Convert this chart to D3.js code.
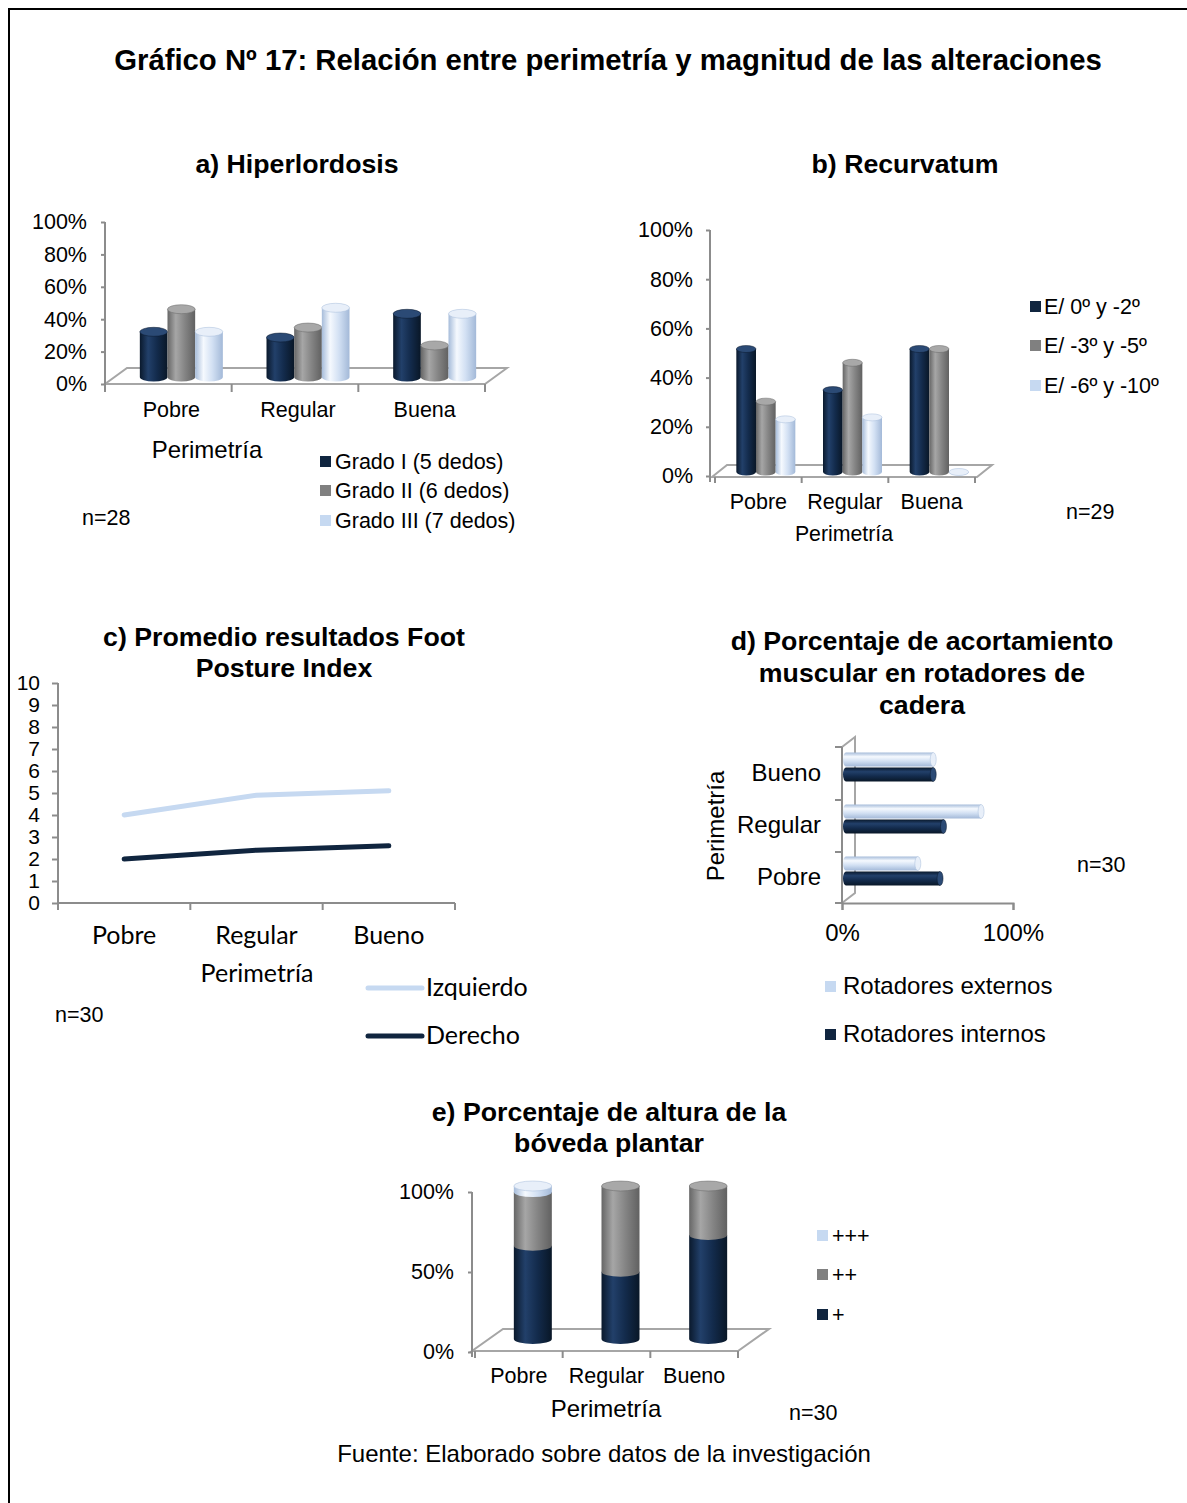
<!DOCTYPE html>
<html>
<head>
<meta charset="utf-8">
<script src="https://cdn.jsdelivr.net/npm/d3@7"></script>
<style>
  html, body { margin: 0; padding: 0; background: #fff; }
  svg { display: block; }
  text { font-family: "Liberation Sans", Arial, sans-serif; fill: #000; }
  .cal { font-family: Lato, "Open Sans", sans-serif; }
</style>
</head>
<body>
<div id="chart"></div>
<script>
// ---- a) Hiperlordosis (n=28) ----
const perimA = ["Pobre", "Regular", "Buena"];
const seriesA = ["Grado I (5 dedos)", "Grado II (6 dedos)", "Grado III (7 dedos)"];
const gradoI = [28.6, 25.0, 40.0];
const gradoII = [42.9, 31.3, 20.0];
const gradoIII = [28.6, 43.8, 40.0];
const pctTicksA = [0, 20, 40, 60, 80, 100];

// ---- b) Recurvatum (n=29) ----
const perimB = ["Pobre", "Regular", "Buena"];
const seriesB = ["E/ 0º y -2º", "E/ -3º y -5º", "E/ -6º y -10º"];
const e0a2 = [50.0, 33.3, 50.0];
const e3a5 = [28.6, 44.4, 50.0];
const e6a10 = [21.4, 22.2, 0.0];
const pctTicksB = [0, 20, 40, 60, 80, 100];

// ---- c) Foot Posture Index (n=30) ----
const perimC = ["Pobre", "Regular", "Bueno"];
const seriesC = ["Izquierdo", "Derecho"];
const izquierdo = [4.0, 4.9, 5.1];
const derecho = [2.0, 2.4, 2.6];
const fpiTicks = [0, 1, 2, 3, 4, 5, 6, 7, 8, 9, 10];

// ---- d) Acortamiento rotadores de cadera (n=30) ----
const perimD = ["Pobre", "Regular", "Bueno"];
const seriesD = ["Rotadores externos", "Rotadores internos"];
const rotExternos = [42, 79, 51];
const rotInternos = [55, 57, 51];
const pctTicksD = [0, 100];

// ---- e) Altura de la bóveda plantar (n=30) ----
const perimE = ["Pobre", "Regular", "Bueno"];
const seriesE = ["+", "++", "+++"];
const alturaUna = [61, 44, 68];
const alturaDos = [35, 56, 32];
const alturaTres = [4, 0, 0];
const pctTicksE = [0, 50, 100];

// ---------------------------------------------------------------
const W = 1187, H = 1503;
const AXIS = "#8c8c8c";
const SWATCH = { navy: "#10253f", gray: "#808080", light: "#c6d9f1" };
const TOP = { navy: "#2b4a75", gray: "#a8a8a8", light: "#e8eff9" };
const SHADE = {
  navy: ["#0a192c", "#22406a", "#132b4c", "#091727"],
  gray: ["#666666", "#a6a6a6", "#858585", "#616161"],
  light: ["#a6bcda", "#f5f9fe", "#d2e0f3", "#a3b9d8"]
};
const F_TICK = 21.5, F_SUB = 26.7, F_N = 21.5;

const svg = d3.select("#chart").append("svg").attr("width", W).attr("height", H);
svg.append("rect").attr("width", W).attr("height", H).attr("fill", "#fff");

const defs = svg.append("defs");
Object.keys(SHADE).forEach(k => {
  [["v", 0, 0, 1, 0], ["h", 0, 0, 0, 1]].forEach(([o, x1, y1, x2, y2]) => {
    const g = defs.append("linearGradient").attr("id", `g${o}-${k}`)
      .attr("x1", x1).attr("y1", y1).attr("x2", x2).attr("y2", y2);
    [0, 0.3, 0.62, 1].forEach((off, i) =>
      g.append("stop").attr("offset", off).attr("stop-color", SHADE[k][i]));
  });
});

// frame
svg.append("line").attr("x1", 8).attr("y1", 9).attr("x2", W).attr("y2", 9)
  .attr("stroke", "#000").attr("stroke-width", 2);
svg.append("line").attr("x1", 9).attr("y1", 9).attr("x2", 9).attr("y2", H)
  .attr("stroke", "#000").attr("stroke-width", 2);

function text(g, x, y, s, size, opts = {}) {
  const t = g.append("text").attr("x", x).attr("y", y).text(s)
    .attr("font-size", size).attr("text-anchor", opts.anchor || "start");
  if (opts.bold) t.attr("font-weight", "bold");
  if (opts.cls) t.attr("class", opts.cls);
  return t;
}

// vertical cylinder body + top ellipse
function vcyl(g, x0, w, yt, yb, key, ry, segTop = true) {
  const rx = w / 2;
  g.append("path")
    .attr("d", `M${x0},${yt}V${yb}A${rx},${ry} 0 0 0 ${x0 + w},${yb}V${yt}Z`)
    .attr("fill", `url(#gv-${key})`);
  if (segTop) {
    g.append("ellipse").attr("cx", x0 + rx).attr("cy", yt).attr("rx", rx).attr("ry", ry)
      .attr("fill", TOP[key]).attr("stroke", SHADE[key][0]).attr("stroke-width", 0.5);
  }
}

// horizontal cylinder body + end cap
function hcyl(g, xs, xe, y0, h, key, rx) {
  const ry = h / 2;
  g.append("path")
    .attr("d", `M${xs},${y0}H${xe}V${y0 + h}H${xs}A${rx},${ry} 0 0 1 ${xs},${y0}Z`)
    .attr("fill", `url(#gh-${key})`);
  g.append("ellipse").attr("cx", xe).attr("cy", y0 + ry).attr("rx", rx).attr("ry", ry)
    .attr("fill", TOP[key]).attr("stroke", SHADE[key][0]).attr("stroke-width", 0.5);
}

function styleAxis(sel, size, cls) {
  sel.select(".domain").attr("stroke", AXIS).attr("stroke-width", 2);
  sel.selectAll(".tick line").attr("stroke", AXIS).attr("stroke-width", 2);
  sel.selectAll(".tick text").attr("font-size", size).attr("fill", "#000")
    .attr("font-family", cls ? "Lato, 'Open Sans', sans-serif" : "'Liberation Sans', Arial, sans-serif");
}

function floor(g, x0, x1, y, dx, dy) {
  g.append("path").attr("d", `M${x0},${y}L${x1},${y}L${x1 + dx},${y + dy}L${x0 + dx},${y + dy}Z`)
    .attr("fill", "#fff").attr("stroke", "#a6a6a6").attr("stroke-width", 2);
}

function catTicks(g, x, y0, len) {
  const d = x.domain();
  const xs = d.map(c => x(c)).concat([x(d[d.length - 1]) + x.bandwidth()]);
  xs.forEach(v => g.append("line").attr("x1", v).attr("x2", v).attr("y1", y0).attr("y2", y0 + len)
    .attr("stroke", AXIS).attr("stroke-width", 2));
}

function legendSquares(g, x, ys, labels, keys, size, sq, gap = 4) {
  labels.forEach((l, i) => {
    g.append("rect").attr("x", x).attr("y", ys[i] - sq - 2).attr("width", sq).attr("height", sq)
      .attr("fill", SWATCH[keys[i]]);
    text(g, x + sq + gap, ys[i], l, size);
  });
}

// ---- main title ----
text(svg, 608, 70, "Gráfico Nº 17: Relación entre perimetría y magnitud de las alteraciones", 29.3, { anchor: "middle", bold: true });

// =============== a) Hiperlordosis ===============
{
  const g = svg.append("g");
  text(g, 297, 173, "a) Hiperlordosis", F_SUB, { anchor: "middle", bold: true });
  const x = d3.scaleBand().domain(perimA).range([105, 485]);
  const y = d3.scaleLinear().domain([0, 100]).range([384, 222]);
  const yBar = d3.scaleLinear().domain([0, 100]).range([377, 219]);
  const s = d3.scaleBand().domain(seriesA).range([0, 83]);
  floor(g, 105, 485, 384, 22, -16);
  const ax = g.append("g").attr("transform", "translate(105,0)")
    .call(d3.axisLeft(y).tickValues(pctTicksA).tickFormat(d => d + "%").tickSize(4).tickPadding(14));
  styleAxis(ax, F_TICK);
  ax.select(".domain").attr("d", "M0,222V390");
  catTicks(g, x, 384, 8);
  perimA.forEach(c => text(g, x(c) + x.bandwidth() / 2 + 3, 417, c, F_TICK, { anchor: "middle" }));
  text(g, 207, 458, "Perimetría", 24, { anchor: "middle" });
  const vals = [gradoI, gradoII, gradoIII], keys = ["navy", "gray", "light"];
  perimA.forEach((c, i) => {
    const gx = x(c) + x.bandwidth() / 2 + 13 - 41.5;
    seriesA.forEach((sr, j) => vcyl(g, gx + s(sr), s.bandwidth(), yBar(vals[j][i]), yBar(0), keys[j], 4.5));
  });
  legendSquares(g, 320, [469, 498, 528], seriesA, keys, F_TICK, 11);
  text(g, 82, 525, "n=28", F_N);
}

// =============== b) Recurvatum ===============
{
  const g = svg.append("g");
  text(g, 905, 173, "b) Recurvatum", F_SUB, { anchor: "middle", bold: true });
  const x = d3.scaleBand().domain(perimB).range([715, 975]);
  const y = d3.scaleLinear().domain([0, 100]).range([476, 230]);
  const yBar = d3.scaleLinear().domain([0, 100]).range([472, 226]);
  const s = d3.scaleBand().domain(seriesB).range([0, 59]);
  floor(g, 712, 977, 477, 15, -12);
  const ax = g.append("g").attr("transform", "translate(710,0)")
    .call(d3.axisLeft(y).tickValues(pctTicksB).tickFormat(d => d + "%").tickSize(4).tickPadding(13));
  styleAxis(ax, F_TICK);
  ax.select(".domain").attr("d", "M0,230V482");
  catTicks(g, x, 477, 6);
  perimB.forEach(c => text(g, x(c) + x.bandwidth() / 2, 509, c, F_TICK, { anchor: "middle" }));
  text(g, 844, 541, "Perimetría", 21.3, { anchor: "middle" });
  const vals = [e0a2, e3a5, e6a10], keys = ["navy", "gray", "light"];
  perimB.forEach((c, i) => {
    const gx = x(c) + x.bandwidth() / 2 + 7.5 - 29.5;
    seriesB.forEach((sr, j) => vcyl(g, gx + s(sr), s.bandwidth(), yBar(vals[j][i]), yBar(0), keys[j], 3.5));
  });
  legendSquares(g, 1030, [314, 353, 393], seriesB, keys, F_TICK, 11, 3);
  text(g, 1066, 519, "n=29", F_N);
}

// =============== c) Foot Posture Index ===============
{
  const g = svg.append("g");
  text(g, 284, 646, "c) Promedio resultados Foot", F_SUB, { anchor: "middle", bold: true });
  text(g, 284, 677, "Posture Index", F_SUB, { anchor: "middle", bold: true });
  const x = d3.scaleBand().domain(perimC).range([58, 455]);
  const y = d3.scaleLinear().domain([0, 10]).range([903, 683]);
  const ax = g.append("g").attr("transform", "translate(58,0)")
    .call(d3.axisLeft(y).tickValues(fpiTicks).tickSize(6).tickPadding(12));
  styleAxis(ax, 21);
  ax.select(".domain").attr("d", "M0,683V903");
  g.append("line").attr("x1", 58).attr("x2", 455).attr("y1", 903).attr("y2", 903)
    .attr("stroke", AXIS).attr("stroke-width", 2);
  catTicks(g, x, 903, 7);
  perimC.forEach(c => text(g, x(c) + x.bandwidth() / 2, 944, c, 25, { anchor: "middle", cls: "cal" }));
  text(g, 257, 982, "Perimetría", 25, { anchor: "middle", cls: "cal" });
  const line = d3.line().x((d, i) => x(perimC[i]) + x.bandwidth() / 2).y(d => y(d));
  const colors = ["#c6d9f1", "#10253f"];
  [izquierdo, derecho].forEach((v, k) => g.append("path").attr("d", line(v)).attr("fill", "none")
    .attr("stroke", colors[k]).attr("stroke-width", 5).attr("stroke-linecap", "round"));
  [988, 1036].forEach((yy, k) => {
    g.append("line").attr("x1", 368).attr("x2", 422).attr("y1", yy).attr("y2", yy)
      .attr("stroke", colors[k]).attr("stroke-width", 5).attr("stroke-linecap", "round");
    text(g, 426, yy + 8, seriesC[k], 25, { cls: "cal" });
  });
  text(g, 55, 1022, "n=30", F_N);
}

// =============== d) Rotadores de cadera ===============
{
  const g = svg.append("g");
  ["d) Porcentaje de acortamiento", "muscular en rotadores de", "cadera"].forEach((l, i) =>
    text(g, 922, 650 + i * 32, l, F_SUB, { anchor: "middle", bold: true }));
  const y = d3.scaleBand().domain(perimD.slice().reverse()).range([747, 903]);
  const x = d3.scaleLinear().domain([0, 100]).range([842, 1013]);
  const xBar = d3.scaleLinear().domain([0, 100]).range([846, 1017]);
  const s = d3.scaleBand().domain(seriesD).range([0, 30]);
  // side wall
  g.append("path").attr("d", "M842,747L855,737L855,893L842,903")
    .attr("fill", "#fff").attr("stroke", "#a6a6a6").attr("stroke-width", 2);
  const ax = g.append("g").attr("transform", "translate(0,903)")
    .call(d3.axisBottom(x).tickValues(pctTicksD).tickFormat(d => d + "%").tickSize(7).tickPadding(14));
  styleAxis(ax, 24);
  const yax = g.append("g").attr("transform", "translate(842,0)")
    .call(d3.axisLeft(y).tickSize(0).tickFormat(""));
  yax.select(".domain").attr("stroke", AXIS).attr("stroke-width", 2).attr("d", "M0,747V903");
  [747, 800, 852, 903].forEach(v => g.append("line").attr("x1", 835).attr("x2", 842).attr("y1", v).attr("y2", v)
    .attr("stroke", AXIS).attr("stroke-width", 2));
  perimD.forEach(c => text(g, 821, y(c) + y.bandwidth() / 2 + 8, c, 24, { anchor: "end" }));
  text(g, 0, 0, "Perimetría", 24, { anchor: "middle" })
    .attr("transform", "translate(724,826) rotate(-90)");
  const vals = [rotExternos, rotInternos], keys = ["light", "navy"];
  perimD.forEach((c, i) => {
    const gy = y(c) + y.bandwidth() / 2 - 5.5 - 15;
    seriesD.forEach((sr, j) => hcyl(g, xBar(0), xBar(vals[j][i]), gy + s(sr), s.bandwidth() - 1, keys[j], 3));
  });
  legendSquares(g, 825, [994, 1042], seriesD, keys, 24, 11, 7);
  text(g, 1077, 872, "n=30", F_N);
}

// =============== e) Bóveda plantar ===============
{
  const g = svg.append("g");
  text(g, 609, 1121, "e) Porcentaje de altura de la", F_SUB, { anchor: "middle", bold: true });
  text(g, 609, 1152, "bóveda plantar", F_SUB, { anchor: "middle", bold: true });
  const x = d3.scaleBand().domain(perimE).range([475, 738]);
  const y = d3.scaleLinear().domain([0, 100]).range([1352, 1192]);
  const yBar = d3.scaleLinear().domain([0, 100]).range([1339, 1186]);
  floor(g, 472, 738, 1351, 31, -22);
  const ax = g.append("g").attr("transform", "translate(472,0)")
    .call(d3.axisLeft(y).tickValues(pctTicksE).tickFormat(d => d + "%").tickSize(4).tickPadding(14));
  styleAxis(ax, F_TICK);
  ax.select(".domain").attr("d", "M0,1192V1357");
  catTicks(g, x, 1351, 7);
  perimE.forEach(c => text(g, x(c) + x.bandwidth() / 2, 1383, c, F_TICK, { anchor: "middle" }));
  text(g, 606, 1417, "Perimetría", 24, { anchor: "middle" });
  const stack = d3.stack().keys([0, 1, 2])(perimE.map((c, i) => [alturaUna[i], alturaDos[i], alturaTres[i]]));
  const keys = ["navy", "gray", "light"];
  perimE.forEach((c, i) => {
    const x0 = x(c) + x.bandwidth() / 2 + 14 - 19;
    let topKey = "navy", topY = yBar(0);
    stack.forEach((layer, k) => {
      const [a, b] = layer[i];
      if (b - a <= 0) return;
      vcyl(g, x0, 38, yBar(b), yBar(a), keys[k], 5, false);
      topKey = keys[k]; topY = yBar(b);
    });
    g.append("ellipse").attr("cx", x0 + 19).attr("cy", topY).attr("rx", 19).attr("ry", 5)
      .attr("fill", TOP[topKey]).attr("stroke", SHADE[topKey][0]).attr("stroke-width", 0.5);
  });
  legendSquares(g, 817, [1243, 1282, 1322], ["+++", "++", "+"], ["light", "gray", "navy"], F_TICK, 11);
  text(g, 789, 1420, "n=30", F_N);
}

// ---- source note ----
text(svg, 604, 1462, "Fuente: Elaborado sobre datos de la investigación", 24, { anchor: "middle" });
</script>
</body>
</html>
